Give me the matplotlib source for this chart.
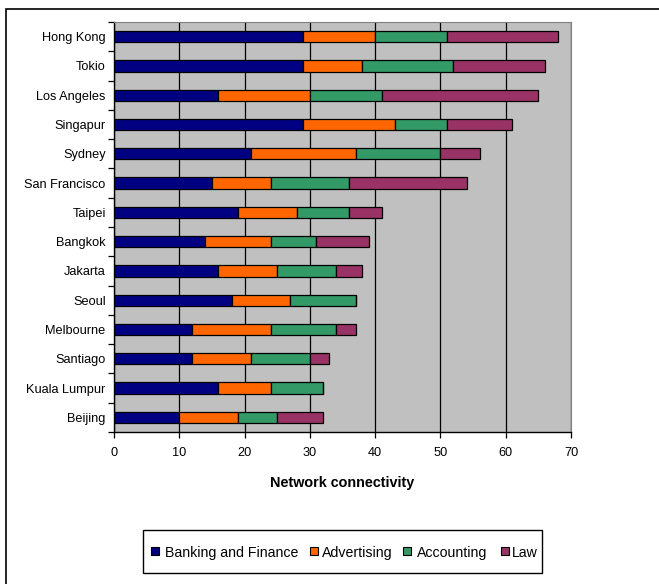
import numpy as np
import matplotlib
matplotlib.use('Agg')
import matplotlib.pyplot as plt
from matplotlib.patches import Rectangle

plt.rcParams['font.family'] = ['Liberation Sans', 'DejaVu Sans']

cities = ['Hong Kong', 'Tokio', 'Los Angeles', 'Singapur', 'Sydney', 'San Francisco',
          'Taipei', 'Bangkok', 'Jakarta', 'Seoul', 'Melbourne', 'Santiago',
          'Kuala Lumpur', 'Beijing']
banking = [29, 29, 16, 29, 21, 15, 19, 14, 16, 18, 12, 12, 16, 10]
advertising = [11, 9, 14, 14, 16, 9, 9, 10, 9, 9, 12, 9, 8, 9]
accounting = [11, 14, 11, 8, 13, 12, 8, 7, 9, 10, 10, 9, 8, 6]
law = [17, 14, 24, 10, 6, 18, 5, 8, 4, 0, 3, 3, 0, 7]

series = [('Banking and Finance', banking, '#000080'),
          ('Advertising', advertising, '#FF6600'),
          ('Accounting', accounting, '#339966'),
          ('Law', law, '#993366')]

W, H = 659, 584
fig = plt.figure(figsize=(W / 100, H / 100), dpi=100)
ax = fig.add_axes([114 / W, 1 - 432 / H, (571 - 114) / W, (432 - 22) / H])
ax.set_facecolor('#C0C0C0')

y = np.arange(len(cities))
left = np.zeros(len(cities))
for name, vals, col in series:
    vals = np.array(vals, dtype=float)
    ax.barh(y, vals, left=left, height=0.39, color=col, edgecolor='black',
            linewidth=0.9, label=name, zorder=3)
    left += vals

ax.set_xlim(0, 70)
ax.set_ylim(len(cities) - 0.5, -0.5)
ax.set_xticks(np.arange(0, 71, 10))
ax.xaxis.grid(True, color='black', linewidth=0.9, zorder=1)
ax.set_axisbelow(True)
ax.set_yticks(y)
ax.set_yticklabels(cities, fontsize=9.2)
ax.set_yticks(np.arange(-0.5, len(cities), 1), minor=True)
ax.tick_params(axis='y', which='major', length=0, pad=6)
ax.tick_params(axis='y', which='minor', length=4, width=0.9, direction='out')
ax.tick_params(axis='x', length=4, width=0.9, direction='out', labelsize=9.2, pad=7)
for s in ['top', 'right']:
    ax.spines[s].set_color('#808080')
    ax.spines[s].set_linewidth(0.8)
for s in ['left', 'bottom']:
    ax.spines[s].set_linewidth(1.0)
ax.set_xlabel('Network connectivity', fontsize=10.4, fontweight='bold', labelpad=12)


# legend drawn by hand (pixel positions, top-left origin) so the labels sit on one line
def px(x, yy):
    return x / W, 1 - yy / H


fx, fy = px(143, 573)
fig.patches.append(Rectangle((fx, fy), (542 - 143) / W, (573 - 530) / H,
                             transform=fig.transFigure, facecolor='white',
                             edgecolor='black', linewidth=1.0, zorder=5))
key_x = [151, 310, 403, 501]
text_x = [165, 322, 417, 512]
for (name, vals, col), kx, tx in zip(series, key_x, text_x):
    sx, sy = px(kx, 555)
    fig.patches.append(Rectangle((sx, sy), 8 / W, 8 / H, transform=fig.transFigure,
                                 facecolor=col, edgecolor='black', linewidth=0.8,
                                 zorder=6))
    lx, ly = px(tx, 551.5)
    fig.text(lx, ly, name, fontsize=10.2, ha='left', va='center_baseline', zorder=6)

fig.patches.append(Rectangle((6 / W, -0.05), 1.1, 1 - 9 / H + 0.05,
                             transform=fig.transFigure, fill=False,
                             edgecolor='black', linewidth=1.2))

fig.savefig('out.png', dpi=100)
